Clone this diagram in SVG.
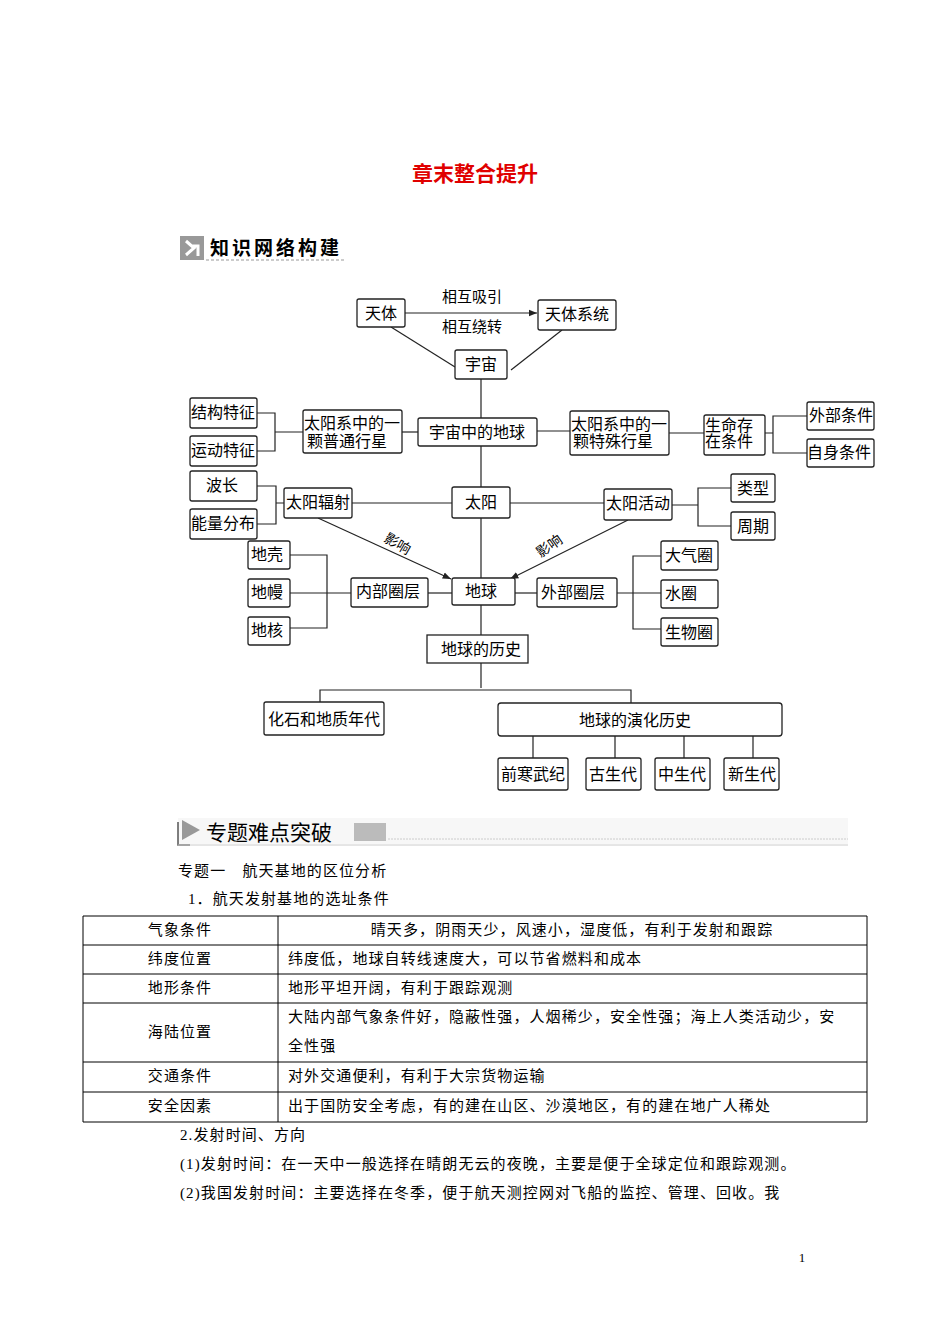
<svg xmlns="http://www.w3.org/2000/svg" width="950" height="1344" viewBox="0 0 950 1344">
<defs>
<style>
text{font-family:"Liberation Serif","Noto Sans CJK SC",serif;fill:#000}
.n rect{fill:#fff;stroke:#222;stroke-width:1.3}
.n text{font-size:16px;text-anchor:middle}
.c{fill:none;stroke:#222;stroke-width:1.2}
.b{font-size:15px;letter-spacing:1.1px}
.t line{stroke:#000;stroke-width:1}
</style>
<marker id="ar" viewBox="0 0 10 10" refX="10" refY="5" markerWidth="7" markerHeight="7" orient="auto"><path d="M0,1 L10,5 L0,9 z" fill="#222"/></marker>
</defs>
<rect width="950" height="1344" fill="#fff"/>
<text x="475" y="181" font-size="21" font-weight="bold" text-anchor="middle" style="fill:#e00000">章末整合提升</text>
<g id="hdr1">
<rect x="180" y="236" width="24" height="24" fill="#999"/>
<path d="M186,241 L194,248 L186,255 M192,246 L198,246 L198,256" fill="none" stroke="#fff" stroke-width="3"/>
<text x="210" y="255" font-size="19" font-weight="bold" letter-spacing="3" font-family="Noto Sans CJK SC,sans-serif">知识网络构建</text>
<line x1="206" y1="260" x2="344" y2="260" stroke="#999" stroke-dasharray="3,2"/>
</g>
<g id="connectors">
<line class="c" x1="405" y1="313" x2="537" y2="313" marker-end="url(#ar)"/>
<line class="c" x1="391" y1="327" x2="455" y2="367"/>
<line class="c" x1="562" y1="330" x2="511" y2="370"/>
<line class="c" x1="481" y1="379" x2="481" y2="688"/>
<line class="c" x1="402" y1="432" x2="418" y2="432"/>
<path class="c" d="M257,413 H275 V451 H257 M275,432 H303"/>
<line class="c" x1="537" y1="431" x2="570" y2="431"/>
<line class="c" x1="669" y1="433" x2="704" y2="433"/>
<path class="c" d="M807,416 H773 V453 H807 M765,433 H773"/>
<path class="c" d="M257,486 H276 V524 H257 M276,503 H284"/>
<line class="c" x1="352" y1="503" x2="452" y2="503"/>
<line class="c" x1="510" y1="503" x2="604" y2="503"/>
<path class="c" d="M731,488 H698 V526 H731 M672,505 H698"/>
<line class="c" x1="318" y1="518" x2="451" y2="579" marker-end="url(#ar)"/>
<line class="c" x1="628" y1="520" x2="510" y2="579" marker-end="url(#ar)"/>
<path class="c" d="M290,555 H327 V628 H290 M290,593 H351"/>
<line class="c" x1="428" y1="593" x2="452" y2="593"/>
<line class="c" x1="515" y1="593" x2="537" y2="593"/>
<path class="c" d="M661,556 H633 V629 H661 M617,593 H661"/>
<path class="c" d="M320,702 V690 H631 V703"/>
<path class="c" d="M533,736 V758 M615,736 V758 M684,736 V758 M753,736 V758"/>
<text x="472" y="302" font-size="15" text-anchor="middle">相互吸引</text>
<text x="472" y="332" font-size="15" text-anchor="middle">相互绕转</text>
<text x="395" y="548" font-size="14" text-anchor="middle" transform="rotate(30 395 548)">影响</text>
<text x="552" y="550" font-size="14" text-anchor="middle" transform="rotate(-35 552 550)">影响</text>
</g>
<g id="n1" class="n"><rect x="357" y="299" width="48" height="28" rx="2"/><text x="381" y="319">天体</text></g>
<g id="n2" class="n"><rect x="538" y="300" width="78" height="30" rx="2"/><text x="577" y="320">天体系统</text></g>
<g id="n3" class="n"><rect x="455" y="350" width="52" height="29" rx="2"/><text x="481" y="370">宇宙</text></g>
<g id="n4" class="n"><rect x="418" y="418" width="119" height="28" rx="2"/><text x="477" y="438">宇宙中的地球</text></g>
<g id="n5" class="n"><rect x="303" y="410" width="99" height="43" rx="2"/><text x="352" y="429">太阳系中的一</text><text x="347" y="447">颗普通行星</text></g>
<g id="n6" class="n"><rect x="190" y="398" width="67" height="30" rx="2"/><text x="223" y="418">结构特征</text></g>
<g id="n7" class="n"><rect x="190" y="436" width="67" height="30" rx="2"/><text x="223" y="456">运动特征</text></g>
<g id="n8" class="n"><rect x="570" y="411" width="99" height="44" rx="2"/><text x="619" y="430">太阳系中的一</text><text x="613" y="447">颗特殊行星</text></g>
<g id="n9" class="n"><rect x="704" y="415" width="61" height="40" rx="2"/><text x="729" y="431">生命存</text><text x="729" y="447">在条件</text></g>
<g id="n10" class="n"><rect x="807" y="402" width="67" height="28" rx="2"/><text x="841" y="421">外部条件</text></g>
<g id="n11" class="n"><rect x="807" y="439" width="67" height="28" rx="2"/><text x="839" y="458">自身条件</text></g>
<g id="n12" class="n"><rect x="190" y="471" width="67" height="30" rx="2"/><text x="222" y="491">波长</text></g>
<g id="n13" class="n"><rect x="190" y="509" width="67" height="30" rx="2"/><text x="223" y="529">能量分布</text></g>
<g id="n14" class="n"><rect x="284" y="488" width="68" height="30" rx="2"/><text x="318" y="508">太阳辐射</text></g>
<g id="n15" class="n"><rect x="452" y="487" width="58" height="31" rx="2"/><text x="481" y="508">太阳</text></g>
<g id="n16" class="n"><rect x="604" y="489" width="68" height="31" rx="2"/><text x="638" y="509">太阳活动</text></g>
<g id="n17" class="n"><rect x="731" y="474" width="44" height="28" rx="2"/><text x="753" y="494">类型</text></g>
<g id="n18" class="n"><rect x="731" y="512" width="44" height="28" rx="2"/><text x="753" y="532">周期</text></g>
<g id="n19" class="n"><rect x="248" y="541" width="42" height="28" rx="2"/><text x="267" y="560">地壳</text></g>
<g id="n20" class="n"><rect x="248" y="579" width="42" height="28" rx="2"/><text x="267" y="598">地幔</text></g>
<g id="n21" class="n"><rect x="248" y="617" width="42" height="28" rx="2"/><text x="267" y="636">地核</text></g>
<g id="n22" class="n"><rect x="351" y="578" width="77" height="29" rx="2"/><text x="388" y="597">内部圈层</text></g>
<g id="n23" class="n"><rect x="452" y="578" width="63" height="27" rx="2"/><text x="481" y="597">地球</text></g>
<g id="n24" class="n"><rect x="537" y="578" width="80" height="29" rx="2"/><text x="573" y="598">外部圈层</text></g>
<g id="n25" class="n"><rect x="661" y="541" width="57" height="29" rx="2"/><text x="689" y="561">大气圈</text></g>
<g id="n26" class="n"><rect x="661" y="580" width="57" height="28" rx="2"/><text x="681" y="599">水圈</text></g>
<g id="n27" class="n"><rect x="661" y="618" width="57" height="28" rx="2"/><text x="689" y="638">生物圈</text></g>
<g id="n28" class="n"><rect x="427" y="635" width="101" height="28"/><text x="481" y="655">地球的历史</text></g>
<g id="n29" class="n"><rect x="264" y="702" width="120" height="33" rx="2"/><text x="324" y="725">化石和地质年代</text></g>
<g id="n30" class="n"><rect x="498" y="703" width="284" height="33" rx="3"/><text x="635" y="726">地球的演化历史</text></g>
<g id="n31" class="n"><rect x="498" y="758" width="70" height="32" rx="2"/><text x="533" y="780">前寒武纪</text></g>
<g id="n32" class="n"><rect x="586" y="758" width="55" height="32" rx="2"/><text x="613" y="780">古生代</text></g>
<g id="n33" class="n"><rect x="655" y="758" width="55" height="32" rx="2"/><text x="682" y="780">中生代</text></g>
<g id="n34" class="n"><rect x="724" y="758" width="55" height="32" rx="2"/><text x="752" y="780">新生代</text></g>
<g id="hdr2">
<rect x="178" y="818" width="670" height="26" fill="#f7f7f7"/>
<path d="M178,822 V845 H190" fill="none" stroke="#555" stroke-width="1.5"/>
<path d="M182,820 L200,830 L182,840 z" fill="#999"/>
<text x="206" y="840" font-size="21" font-family="Noto Sans CJK SC,sans-serif">专题难点突破</text>
<rect x="354" y="823" width="32" height="18" fill="#bbb"/>
<line x1="388" y1="839" x2="848" y2="839" stroke="#ccc" stroke-dasharray="2,1"/>
<line x1="178" y1="845" x2="848" y2="845" stroke="#ccc"/>
</g>
<text class="b" x="178" y="876">专题一　航天基地的区位分析</text>
<text class="b" x="188" y="904">1．航天发射基地的选址条件</text>
<g class="t">
<line x1="83" y1="916" x2="867" y2="916"/><line x1="83" y1="945" x2="867" y2="945"/><line x1="83" y1="974" x2="867" y2="974"/><line x1="83" y1="1003" x2="867" y2="1003"/><line x1="83" y1="1062" x2="867" y2="1062"/><line x1="83" y1="1092" x2="867" y2="1092"/><line x1="83" y1="1122" x2="867" y2="1122"/>
<line x1="83" y1="916" x2="83" y2="1122"/><line x1="278" y1="916" x2="278" y2="1122"/><line x1="867" y1="916" x2="867" y2="1122"/>
</g>
<g>
<text class="b" x="180" y="935" text-anchor="middle">气象条件</text>
<text class="b" x="572" y="935" text-anchor="middle">晴天多，阴雨天少，风速小，湿度低，有利于发射和跟踪</text>
<text class="b" x="180" y="964" text-anchor="middle">纬度位置</text>
<text class="b" x="288" y="964">纬度低，地球自转线速度大，可以节省燃料和成本</text>
<text class="b" x="180" y="993" text-anchor="middle">地形条件</text>
<text class="b" x="288" y="993">地形平坦开阔，有利于跟踪观测</text>
<text class="b" x="180" y="1037" text-anchor="middle">海陆位置</text>
<text class="b" x="288" y="1022">大陆内部气象条件好，隐蔽性强，人烟稀少，安全性强；海上人类活动少，安</text>
<text class="b" x="288" y="1051">全性强</text>
<text class="b" x="180" y="1081" text-anchor="middle">交通条件</text>
<text class="b" x="288" y="1081">对外交通便利，有利于大宗货物运输</text>
<text class="b" x="180" y="1111" text-anchor="middle">安全因素</text>
<text class="b" x="288" y="1111">出于国防安全考虑，有的建在山区、沙漠地区，有的建在地广人稀处</text>
</g>
<text class="b" x="180" y="1140">2.发射时间、方向</text>
<text class="b" x="180" y="1169">(1)发射时间：在一天中一般选择在晴朗无云的夜晚，主要是便于全球定位和跟踪观测。</text>
<text class="b" x="180" y="1198">(2)我国发射时间：主要选择在冬季，便于航天测控网对飞船的监控、管理、回收。我</text>
<text x="802" y="1262" font-size="13" text-anchor="middle">1</text>
</svg>
